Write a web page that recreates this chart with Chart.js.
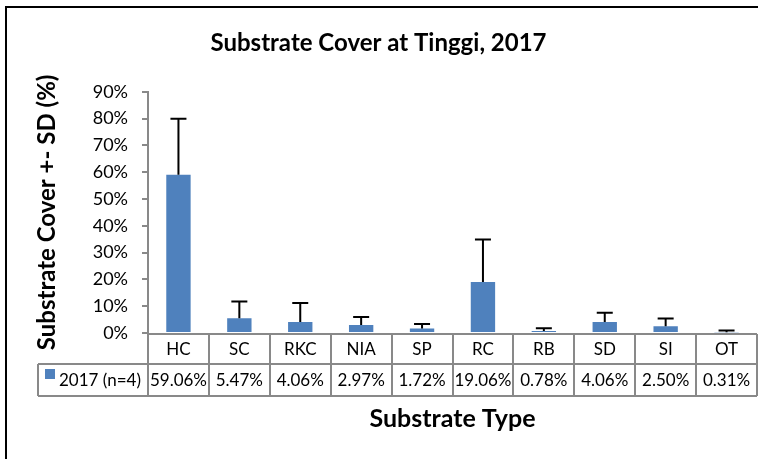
<!DOCTYPE html>
<html>
<head>
<meta charset="utf-8">
<script src="https://cdn.jsdelivr.net/npm/chart.js"></script>
<style>
    html, body { margin: 0; padding: 0; background: #fff; }
    #wrap { width: 758px; height: 459px; }
</style>
</head>
<body>
<div id="wrap"><canvas id="chart" width="758" height="459"></canvas></div>
<script>
// Daten aus der Vorlage
const kategorien = ["HC", "SC", "RKC", "NIA", "SP", "RC", "RB", "SD", "SI", "OT"];
const bedeckung = [59.06, 5.47, 4.06, 2.97, 1.72, 19.06, 0.78, 4.06, 2.50, 0.31];
const standardabw = [20.9, 6.3, 7.1, 3.0, 1.6, 15.8, 1.0, 3.5, 2.9, 0.6];
const yTicks = [0, 10, 20, 30, 40, 50, 60, 70, 80, 90];
const serienName = "2017 (n=4)";

const schrift = "Lato, 'Open Sans', sans-serif";
const balkenFarbe = "#4f81bd";
const linienFarbe = "#898989";

// Rahmen um das Diagramm
const rahmenPlugin = {
    id: 'rahmen',
    beforeDraw(chart) {
        const ctx = chart.ctx;
        ctx.save();
        ctx.strokeStyle = "#000";
        ctx.lineWidth = 2;
        ctx.beginPath();
        ctx.moveTo(6, chart.height);
        ctx.lineTo(6, 7);
        ctx.lineTo(chart.width, 7);
        ctx.stroke();
        ctx.restore();
    }
};

// Fehlerbalken (+SD)
const fehlerPlugin = {
    id: 'fehler',
    afterDatasetsDraw(chart) {
        const ctx = chart.ctx;
        const y = chart.scales.y;
        const meta = chart.getDatasetMeta(0);
        ctx.save();
        ctx.strokeStyle = "#000";
        ctx.lineWidth = 2;
        meta.data.forEach((bar, i) => {
            const oben = y.getPixelForValue(bedeckung[i] + standardabw[i]);
            ctx.beginPath();
            ctx.moveTo(bar.x, bar.y);
            ctx.lineTo(bar.x, oben);
            ctx.moveTo(bar.x - 8, oben);
            ctx.lineTo(bar.x + 8, oben);
            ctx.stroke();
        });
        ctx.restore();
    }
};

// Datentabelle unter der x-Achse
const tabellePlugin = {
    id: 'tabelle',
    afterDraw(chart) {
        const ctx = chart.ctx;
        const x = chart.scales.x;
        const area = chart.chartArea;
        const spalte = (area.right - area.left) / kategorien.length;
        const y0 = area.bottom + 1;
        const y1 = y0 + 30;
        const y2 = y1 + 32;
        const legLinks = 38;

        ctx.save();
        ctx.strokeStyle = linienFarbe;
        ctx.lineWidth = 2;
        ctx.beginPath();
        ctx.moveTo(area.left, y0); ctx.lineTo(area.right, y0);
        ctx.moveTo(legLinks, y1); ctx.lineTo(area.right, y1);
        ctx.moveTo(legLinks, y2); ctx.lineTo(area.right, y2);
        ctx.moveTo(legLinks, y1); ctx.lineTo(legLinks, y2);
        for (let i = 0; i <= kategorien.length; i++) {
            const xp = Math.round(area.left + i * spalte);
            ctx.moveTo(xp, y0); ctx.lineTo(xp, y2);
        }
        ctx.stroke();

        ctx.fillStyle = "#000";
        ctx.font = "17px " + schrift;
        ctx.textAlign = "center";
        ctx.textBaseline = "middle";
        kategorien.forEach((k, i) => {
            const xp = x.getPixelForValue(i);
            ctx.fillText(k, xp, (y0 + y1) / 2 + 1);
            ctx.fillText(bedeckung[i].toFixed(2) + "%", xp, (y1 + y2) / 2 + 1);
        });

        ctx.fillStyle = balkenFarbe;
        ctx.fillRect(45, y1 + 5, 10, 10);
        ctx.fillStyle = "#000";
        ctx.textAlign = "left";
        ctx.fillText(serienName, 59, (y1 + y2) / 2 + 1);

        ctx.font = "bold 25px " + schrift;
        ctx.textAlign = "center";
        ctx.fillText("Substrate Type", (area.left + area.right) / 2, y2 + 23);
        ctx.restore();
    }
};

new Chart(document.getElementById('chart'), {
    type: 'bar',
    data: {
        labels: kategorien,
        datasets: [{
            label: serienName,
            data: bedeckung,
            backgroundColor: balkenFarbe,
            borderWidth: 0,
            barPercentage: 0.4,
            categoryPercentage: 1.0
        }]
    },
    options: {
        responsive: false,
        animation: false,
        devicePixelRatio: 1,
        layout: { padding: { top: 0, right: 1, bottom: 126, left: 0 } },
        plugins: {
            legend: { display: false },
            tooltip: { enabled: false },
            title: {
                display: true,
                text: "Substrate Cover at Tinggi, 2017",
                color: "#000",
                font: { family: schrift, size: 24, weight: 'bold' },
                padding: { top: 29, bottom: 34 }
            }
        },
        scales: {
            x: { display: false },
            y: {
                min: 0,
                max: 90,
                afterFit(scale) { scale.width = 148; },
                afterBuildTicks(scale) { scale.ticks = yTicks.map(v => ({ value: v })); },
                border: { display: true, color: linienFarbe, width: 2 },
                grid: { drawOnChartArea: false, color: linienFarbe, lineWidth: 2, tickLength: 6 },
                ticks: {
                    color: "#000",
                    padding: 14,
                    font: { family: schrift, size: 18 },
                    callback: v => v + "%"
                },
                title: {
                    display: true,
                    text: "Substrate Cover +- SD (%)",
                    color: "#000",
                    font: { family: schrift, size: 24, weight: 'bold' },
                    padding: { top: 33, bottom: 0 }
                }
            }
        }
    },
    plugins: [rahmenPlugin, fehlerPlugin, tabellePlugin]
});
</script>
</body>
</html>
